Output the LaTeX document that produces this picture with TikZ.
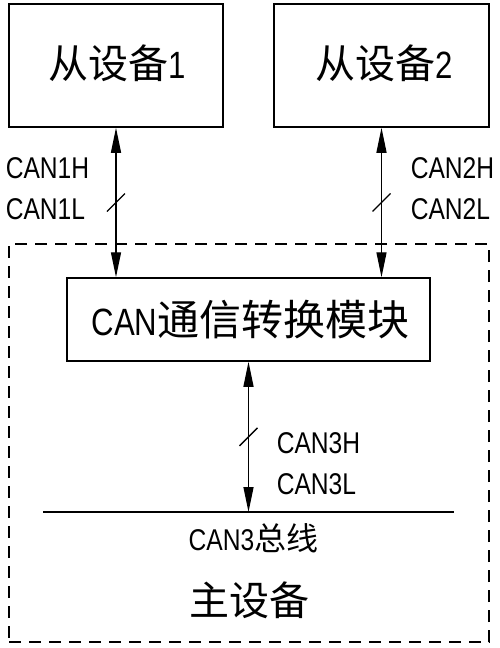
\documentclass[tikz,border=0pt]{standalone}
\usepackage{fontspec}
\setmainfont{Liberation Sans}[FakeStretch=0.82]
\newfontfamily\cjk{Noto Sans CJK SC}
\usetikzlibrary{arrows.meta,calc}
\newcommand\titlesize{\fontsize{38}{42}\selectfont}
\newcommand\labelsize{\fontsize{30}{34}\selectfont}
\begin{document}
\begin{tikzpicture}[x=1pt,y=-1pt,line width=1.5pt,
  box/.style={draw,inner sep=0pt},
  hostbox/.style={draw,inner sep=0pt,dash pattern=on 12pt off 8pt},
  biarrow/.style={{Triangle[length=25pt,width=10pt]}-{Triangle[length=25pt,width=10pt]},line width=1.3pt},
  lbl/.style={anchor=base west,inner sep=0pt,font=\labelsize},
  slash/.style={line width=1.3pt}]
\useasboundingbox (0,0) rectangle (500,648);
% outer dashed master device
\node[hostbox,minimum width=480pt,minimum height=398pt] (host) at (249,443) {};
% slave boxes
\node[box,minimum width=214pt,minimum height=123pt] (s1) at (116,65.5) {};
\node[box,minimum width=215pt,minimum height=123pt] (s2) at (381.5,65.5) {};
\node[inner sep=0pt] (t1) at (117.5,63) {\titlesize{\cjk\fontsize{40}{44}\selectfont 从设备}1};
\node[inner sep=0pt] (t2) at (384.5,63) {\titlesize{\cjk\fontsize{40}{44}\selectfont 从设备}2};
% CAN module
\node[box,minimum width=363pt,minimum height=83pt] (m) at (248.5,319.5) {};
\node[inner sep=0pt] (mt) at (250.5,320) {\titlesize CAN{\cjk\fontsize{42}{46}\selectfont 通信转换模块}};
% bus
\coordinate (busL) at (43,512);
\coordinate (busR) at (454,512);
\draw (busL) -- (busR);
\coordinate (busC) at (m.south |- busL);
% arrows
\draw[biarrow] (s1.south) -- coordinate[pos=0.5] (c1) (s1.south |- m.north);
\draw[biarrow] (s2.south) -- coordinate[pos=0.5] (c2) (s2.south |- m.north);
\draw[biarrow] (m.south) -- coordinate[pos=0.5] (c3) (busC);
\draw[slash] ($(c1)+(-9,9)$) -- ($(c1)+(9,-9)$);
\draw[slash] ($(c2)+(-9,9)$) -- ($(c2)+(9,-9)$);
\draw[slash] ($(c3)+(-9,9)$) -- ($(c3)+(9,-9)$);
% labels
\node[lbl] (l1h) at (5,178) {CAN1H};
\node[lbl] (l1l) at (5,219) {CAN1L};
\node[lbl] (l2h) at (410,178) {CAN2H};
\node[lbl] (l2l) at (410,219) {CAN2L};
\node[lbl] (l3h) at (276,453) {CAN3H};
\node[lbl] (l3l) at (276,494) {CAN3L};
\node[anchor=base,inner sep=0pt,font=\labelsize] (bus) at (253.5,550) {CAN3{\cjk\fontsize{32}{36}\selectfont 总线}};
\node[inner sep=0pt] (master) at (249,600) {\cjk\fontsize{40}{44}\selectfont 主设备};
\end{tikzpicture}
\end{document}
